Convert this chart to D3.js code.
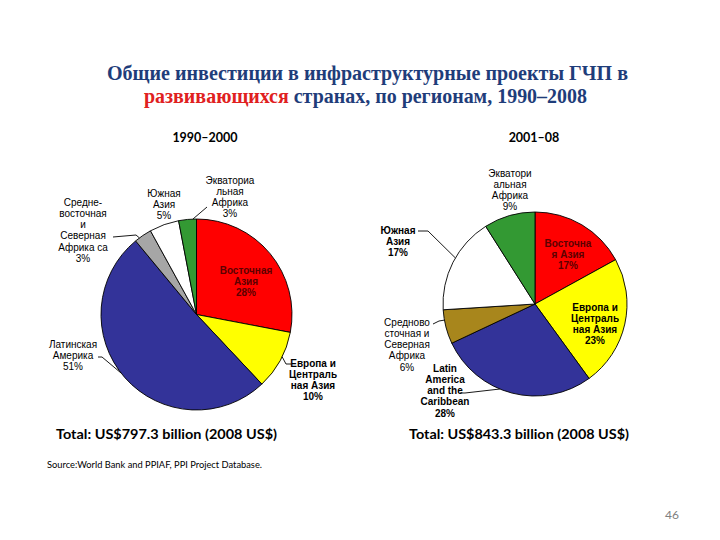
<!DOCTYPE html>
<html><head><meta charset="utf-8">
<script src="https://cdn.jsdelivr.net/npm/d3@7"></script>
<style>body{margin:0;background:#fff} svg{display:block}</style>
</head><body><svg id="c" width="720" height="540"></svg>
<script>
// ---------- data ----------
const regions = ["Восточная Азия","Европа и Центральная Азия","Латинская Америка","Ближний Восток и Северная Африка","Южная Азия","Экваториальная Африка"];
const periods = ["1990–2000","2001–08"];
const values1990 = [28, 10, 51, 3, 5, 3];
const values2001 = [17, 23, 28, 6, 17, 9];
const labels1990 = [["Восточная","Азия"],["Европа и","Централь","ная Азия"],["Латинская","Америка"],["Средне-","восточная","и","Северная","Африка са"],["Южная","Азия"],["Экваториа","льная","Африка"]];
const labels2001 = [["Восточна","я Азия"],["Европа и","Централь","ная Азия"],["Latin","America","and the","Caribbean"],["Средново","сточная и","Северная","Африка"],["Южная","Азия"],["Экватори","альная","Африка"]];
const totals = ["Total: US$797.3 billion (2008 US$)","Total: US$843.3 billion (2008 US$)"];
const titleLine1 = "Общие инвестиции в инфраструктурные проекты ГЧП в";
const titleRed = "развивающихся";
const titleRest = " странах, по регионам, 1990–2008";
const sourceText = "Source:World Bank and PPIAF, PPI Project Database.";
const pageNo = "46";

// ---------- layout / style ----------
const colors1990 = ["#FF0000","#FFFF00","#333399","#A6A6A6","#FFFFFF","#339933"];
const colors2001 = ["#FF0000","#FFFF00","#333399","#A8861C","#FFFFFF","#339933"];
const charts = [
  {values: values1990, labels: labels1990, colors: colors1990, cx:196.5, cy:314.5, r:95.5,
   period:{x:205, y:141.5}, total:{x:56, y:439, w:221},
   lab:[
    {dx:49.5, dy:-44.5, bold:true, fill:"#5C0000"},
    {dx:116.5, dy:48.5, bold:true, leader:{pts:[[94.5,49.5],[89.5,49.5]], t:0.43}},
    {dx:-123.5, dy:29.5, leader:{pts:[[-98.5,42.5],[-94.5,42.5]], t:0.52}},
    {dx:-113.5, dy:-112.5, leader:{pts:[[-83.5,-77.5],[-60.5,-79.5]], t:0.27}},
    {dx:-32.5, dy:-121.5},
    {dx:33.5, dy:-134.5, leader:{pts:[[10.5,-107.5]], t:0.8}}
   ]},
  {values: values2001, labels: labels2001, colors: colors2001, cx:535, cy:304, r:92,
   period:{x:534, y:141.5}, total:{x:409, y:439, w:220},
   lab:[
    {dx:33, dy:-61, bold:true, fill:"#5C0000"},
    {dx:60, dy:3, bold:true, fill:"#000"},
    {dx:-90, dy:64, bold:true, leader:{pts:[[-75,89],[-70,89]], t:0.58}},
    {dx:-128, dy:18, leader:{pts:[[-102,20],[-96,17]], t:0.7}},
    {dx:-137, dy:-74, bold:true, leader:{pts:[[-117,-73],[-107,-73]], t:0.55}},
    {dx:-25, dy:-131}
   ]}
];
const lineH = 11.3;

const svg = d3.select("#c");

// title
const titleFont = s => s.attr("text-anchor","middle")
  .style("font-family","'Liberation Serif','Times New Roman',serif").style("font-weight","bold")
  .style("font-size","22px").attr("fill","#1F3D7A").attr("lengthAdjust","spacingAndGlyphs");
svg.append("text").call(titleFont).attr("x",367.5).attr("y",80).attr("textLength",521).text(titleLine1);
const t2 = svg.append("text").call(titleFont).attr("x",365.5).attr("y",103).attr("textLength",443);
t2.append("tspan").attr("fill","#E02020").text(titleRed);
t2.append("tspan").text(titleRest);

const pie = d3.pie().sort(null).value(d=>d);

charts.forEach((c,ci)=>{
  const g = svg.append("g").attr("transform",`translate(${c.cx},${c.cy})`);
  const arcs = pie(c.values);
  const arc = d3.arc().innerRadius(0).outerRadius(c.r);
  g.selectAll("path").data(arcs).join("path")
    .attr("d",arc).attr("fill",(d,i)=>c.colors[i])
    .attr("stroke","#000").attr("stroke-width",0.9).attr("stroke-linejoin","round");

  // leaders
  arcs.forEach((a,i)=>{
    const L = c.lab[i];
    if(!L.leader) return;
    const ang = a.startAngle + L.leader.t*(a.endAngle-a.startAngle);
    const edge = [c.r*Math.sin(ang), -c.r*Math.cos(ang)];
    const pts = L.leader.pts.concat([edge]);
    g.append("path").attr("d",d3.line()(pts)).attr("fill","none")
      .attr("stroke","#000").attr("stroke-width",0.9);
  });

  // labels
  arcs.forEach((a,i)=>{
    const L = c.lab[i];
    const lines = c.labels[i].concat([c.values[i]+"%"]);
    const t = g.append("text").attr("text-anchor","middle")
      .style("font-family","'Liberation Sans',Arial,sans-serif")
      .style("font-size","10px")
      .style("font-weight", L.bold ? "bold":"normal")
      .attr("fill", L.fill || "#000");
    lines.forEach((ln,k)=>{
      t.append("tspan").attr("x",L.dx).attr("y",L.dy + k*lineH).attr("dy","0.35em").text(ln);
    });
  });

  svg.append("text").attr("x",c.period.x).attr("y",c.period.y).attr("text-anchor","middle")
    .style("font-family","Lato,'Open Sans',sans-serif").style("font-weight","bold").style("font-size","12.5px")
    .text(periods[ci]);

  svg.append("text").attr("x",c.total.x).attr("y",c.total.y)
    .style("font-family","Lato,'Open Sans',sans-serif").style("font-weight","bold").style("font-size","14px")
    .attr("textLength",c.total.w).attr("lengthAdjust","spacingAndGlyphs")
    .text(totals[ci]);
});

svg.append("text").attr("x",47).attr("y",468)
  .style("font-family","Lato,'Open Sans',sans-serif").style("font-size","9px")
  .attr("textLength",215).attr("lengthAdjust","spacingAndGlyphs")
  .text(sourceText);

svg.append("text").attr("x",672).attr("y",519).attr("text-anchor","middle")
  .style("font-family","Lato,'Open Sans',sans-serif").style("font-size","12px").attr("fill","#808080")
  .text(pageNo);
</script></body></html>
